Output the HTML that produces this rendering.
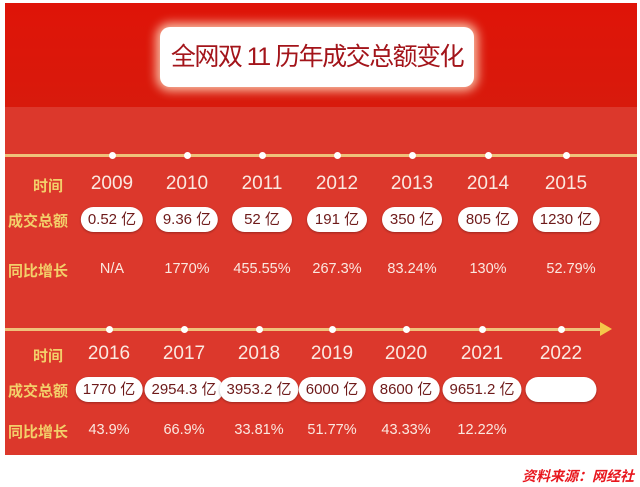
<!DOCTYPE html>
<html><head><meta charset="utf-8"><style>
body{margin:0;width:640px;height:487px;background:#fff;position:relative;overflow:hidden;font-family:"Liberation Sans","Noto Sans CJK SC",sans-serif}
#panel{position:absolute;left:5px;top:3px;width:632px;height:452px;background:#dc382c}
#band{position:absolute;left:0;top:0;width:632px;height:104px;background:linear-gradient(#df1408,#d81a0c)}
#title{position:absolute;left:155px;top:24px;width:314px;height:60px;background:#fff;border-radius:10px;box-shadow:0 0 10px 4px rgba(255,230,200,.8);text-align:center;line-height:60px;font-size:25px;color:#a3141a;letter-spacing:-1.5px;white-space:nowrap}
.line{position:absolute;height:3px;background:#efc27a}
.dot{position:absolute;width:7px;height:7px;border-radius:50%;background:#fff;margin:-3.5px 0 0 -3.5px}
.c{position:absolute;transform:translateX(-50%);white-space:nowrap;text-align:center}
.yr{font-size:19px;color:#fbe8e0}
.gr{font-size:14.5px;color:#fbe8e0}
.pill{background:#fff;border-radius:13px;height:25px;line-height:25px;font-size:15px;color:#6e1a1a;padding:0 7px;min-width:46px;box-shadow:0 1px 2px rgba(0,0,0,.3)}
.lab{position:absolute;font-size:15px;font-weight:bold;color:#f3cf6a;white-space:nowrap}
#src{position:absolute;right:6px;top:466px;font-size:14px;color:#e8161d;font-style:italic;font-weight:bold}
</style></head><body>
<div id="panel">
<div id="band"></div>
<div id="title">全网双 11 历年成交总额变化</div>
</div>
<div id="src">资料来源：网经社</div>
<script>
const years1=["2009","2010","2011","2012","2013","2014","2015"];
const sales1=["0.52 亿","9.36 亿","52 亿","191 亿","350 亿","805 亿","1230 亿"];
const growth1=["N/A","1770%","455.55%","267.3%","83.24%","130%","52.79%"];
const years2=["2016","2017","2018","2019","2020","2021","2022"];
const sales2=["1770 亿","2954.3 亿","3953.2 亿","6000 亿","8600 亿","9651.2 亿",""];
const growth2=["43.9%","66.9%","33.81%","51.77%","43.33%","12.22%",""];
const xs1=[112,187,262,337,412,488,566];
const xs2=[109,184,259,332,406,482,561];
function add(cls,txt,x,y,name){const d=document.createElement('div');d.className=cls;d.textContent=txt;d.style.left=x+'px';d.style.top=y+'px';


document.body.appendChild(d);return d;}
function row(years,sales,growth,xs,lineY,yrY,pillY,grY,arrow,k){
 const l=add('line','',5,lineY-1,'timeline-'+k);l.style.width=(arrow?600:632)+'px';
 if(arrow){const a=document.createElement('div');a.style.cssText='position:absolute;left:600px;top:'+(lineY-7)+'px;width:0;height:0;border-top:7px solid transparent;border-bottom:7px solid transparent;border-left:12px solid #f5c84a';
 
 
 document.body.appendChild(a);}
 add('lab','时间',33,yrY+2,'time-label-'+k);
 add('lab','成交总额',8,pillY+3,'sales-label-'+k);
 add('lab','同比增长',8,grY-1,'growth-label-'+k);
 years.forEach((y,i)=>{
  add('dot','',xs[i],lineY,'dot-'+y);
  add('c yr',y,xs[i],yrY,'year-'+y);
  const p=add('c pill',sales[i],xs[i],pillY,'sales-'+y);
  if(!sales[i])p.style.minWidth='57px';
  if(growth[i])add('c gr',growth[i],xs[i]+(i==6&&k==1?5:0),grY,'growth-'+y);
 });
}
row(years1,sales1,growth1,xs1,155,173,207,261,false,1);
row(years2,sales2,growth2,xs2,329,343,377,422,true,2);
</script>
</body></html>
